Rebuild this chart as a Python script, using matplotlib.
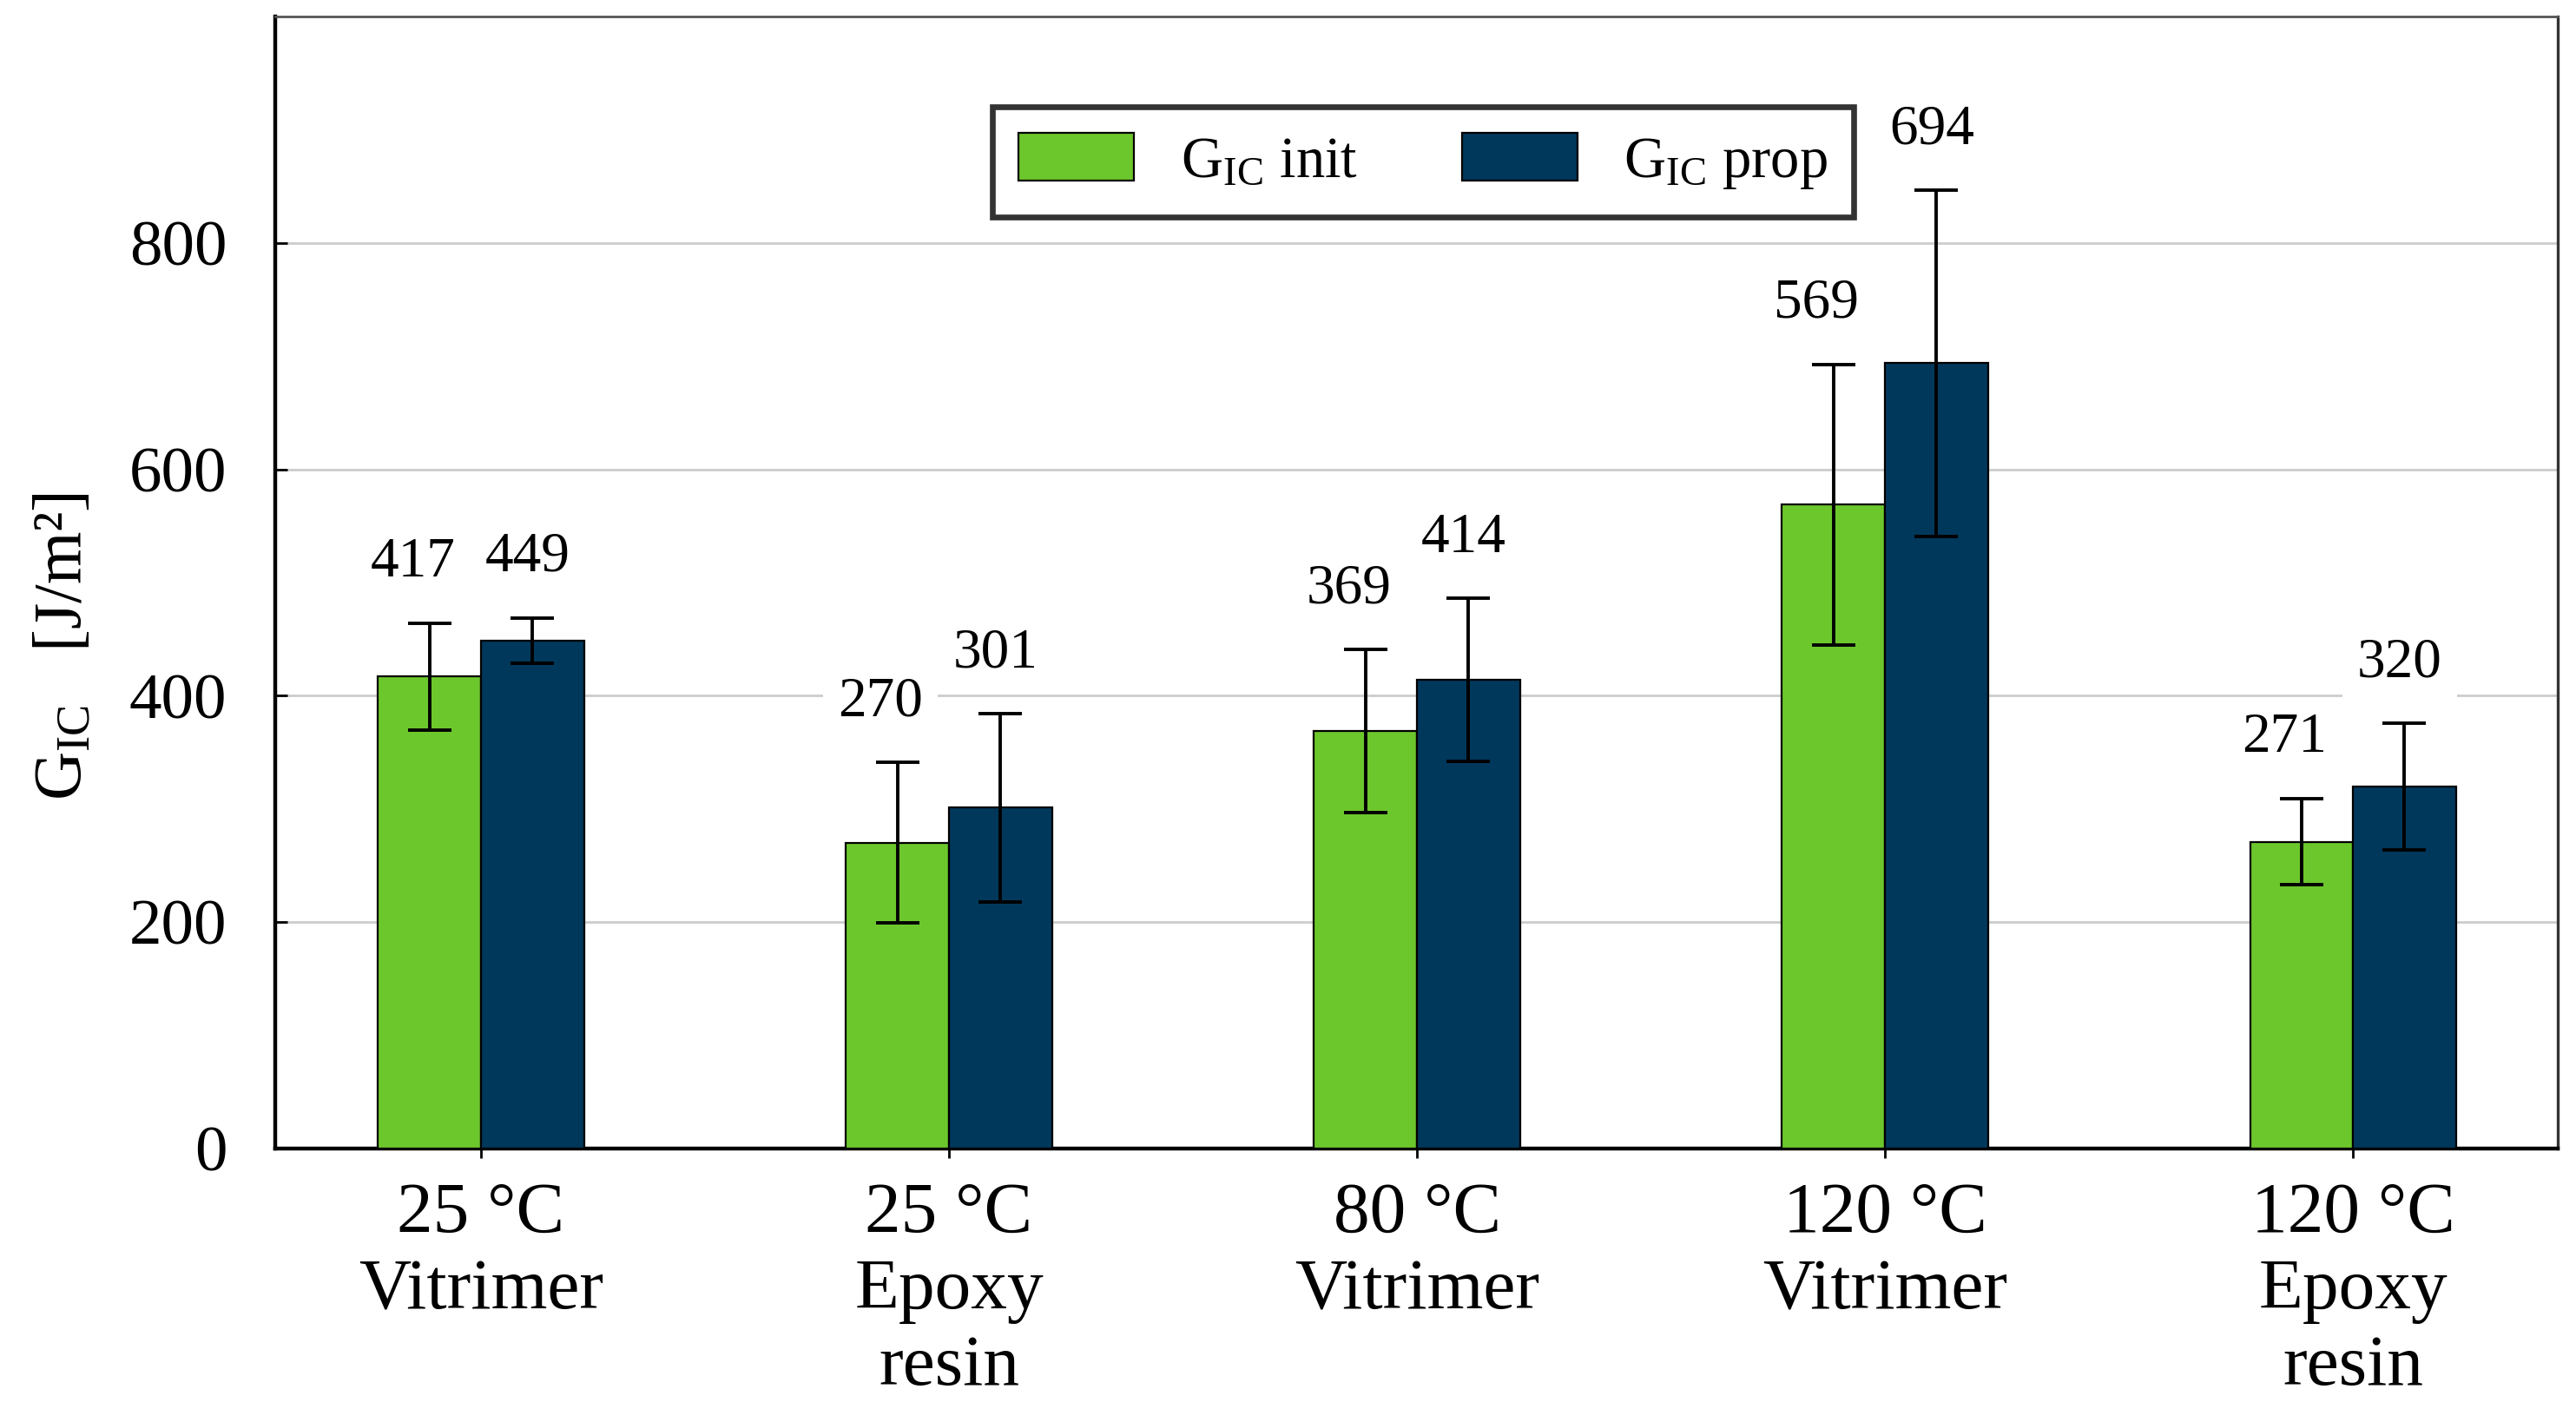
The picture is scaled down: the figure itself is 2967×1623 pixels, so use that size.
import numpy as np
import matplotlib
matplotlib.use("Agg")
import matplotlib.pyplot as plt

# data
groups = ["25 °C\nVitrimer", "25 °C\nEpoxy\nresin", "80 °C\nVitrimer",
          "120 °C\nVitrimer", "120 °C\nEpoxy\nresin"]
g_init = [417, 270, 369, 569, 271]
g_init_err = [47, 71, 72, 124, 38]
g_prop = [449, 301, 414, 694, 320]
g_prop_err = [20, 83, 72, 153, 56]

green = "#6cc72c"
navy = "#00385c"

plt.rcParams['font.family'] = ['Liberation Serif', 'DejaVu Serif']
plt.rcParams['mathtext.fontset'] = 'custom'
plt.rcParams['mathtext.rm'] = 'Liberation Serif'
plt.rcParams['mathtext.it'] = 'Liberation Serif:italic'

fig = plt.figure(figsize=(14.835, 8.115), dpi=200)
ax = fig.add_axes([0.1068, 0.185, 0.886, 0.803])

x = np.arange(len(groups))
w = 0.22
ax.bar(x - w/2, g_init, w, color=green, edgecolor='black', linewidth=0.8,
       yerr=g_init_err, error_kw=dict(elinewidth=1.4, capsize=9, capthick=1.4),
       label=r"G$_{\mathrm{IC}}$ init", zorder=3)
ax.bar(x + w/2, g_prop, w, color=navy, edgecolor='black', linewidth=0.8,
       yerr=g_prop_err, error_kw=dict(elinewidth=1.4, capsize=9, capthick=1.4),
       label=r"G$_{\mathrm{IC}}$ prop", zorder=3)

# value labels above the error bars, white box breaks the grid
for xs, vals, errs, dx in [(x - w/2, g_init, g_init_err, -7),
                           (x + w/2, g_prop, g_prop_err, -2)]:
    for xi, v, e in zip(xs, vals, errs):
        ax.annotate(str(v), (xi, v + e), xytext=(dx, 25), textcoords='offset points',
                    ha='center', va='center', fontsize=23.5, zorder=4,
                    bbox=dict(facecolor='white', edgecolor='none', pad=6))

ax.set_ylim(0, 1000)
ax.set_xlim(-0.44, 4.437)
ax.set_yticks([0, 200, 400, 600, 800])
ax.yaxis.grid(True, color='#cccccc', linewidth=1.0, zorder=0)
ax.set_axisbelow(True)
ax.tick_params(axis='y', direction='in', length=5, width=1, labelsize=27, pad=20)
ax.tick_params(axis='x', direction='out', length=4, width=1, labelsize=30, pad=10)
ax.set_xticks(x)
ax.set_xticklabels(groups, linespacing=1.22)

ax.set_ylabel(r"G$_{\mathrm{IC}}$   [J/m²]", fontsize=28)
ax.yaxis.set_label_coords(-0.079, 0.444)

ax.spines['left'].set_linewidth(1.6)
ax.spines['bottom'].set_linewidth(1.6)
ax.spines['right'].set_linewidth(1.2)
ax.spines['right'].set_color('#333333')
ax.spines['top'].set_linewidth(1.0)
ax.spines['top'].set_color('#555555')

leg = ax.legend(loc='center', bbox_to_anchor=(0.503, 0.872), ncol=2, fontsize=24,
                frameon=True, fancybox=False, edgecolor='black',
                handlelength=2.0, handleheight=0.9, columnspacing=1.8,
                borderpad=0.45, handletextpad=0.8)
leg.get_frame().set_linewidth(2.4)

fig.savefig("out.png", dpi=200)
